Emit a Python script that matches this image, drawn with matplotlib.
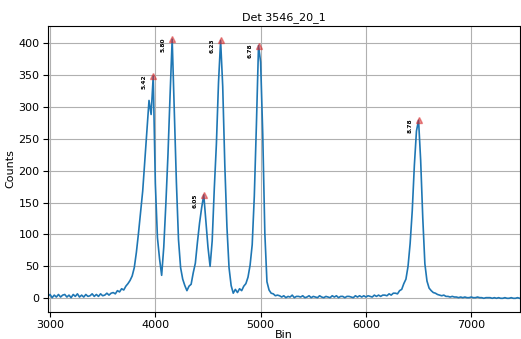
import numpy as np
import matplotlib
matplotlib.use("Agg")
import matplotlib.pyplot as plt

title = "Det 3546_20_1"

# spectrum, every 20 bins
bins = np.arange(2980, 7461, 20)
counts = [
    3, 6, 1, 5, 2, 6, 2, 5, 6, 2,
    5, 1, 6, 3, 7, 2, 5, 2, 6, 3,
    4, 7, 3, 6, 3, 7, 4, 5, 8, 5,
    8, 9, 7, 12, 10, 15, 13, 19, 23, 28,
    35, 48, 72, 102, 135, 168, 215, 262, 310, 288,
    348, 180, 95, 62, 36, 80, 148, 225, 318, 406,
    292, 182, 92, 48, 30, 20, 12, 19, 22, 40,
    55, 88, 118, 142, 162, 120, 80, 50, 90, 172,
    242, 338, 404, 332, 208, 112, 48, 20, 8, 14,
    9, 15, 12, 19, 23, 33, 52, 84, 160, 272,
    396, 370, 258, 102, 26, 13, 8, 7, 4, 5,
    4, 2, 4, 1, 3, 2, 5, 1, 3, 3,
    2, 4, 1, 2, 4, 1, 3, 2, 1, 4,
    2, 1, 3, 2, 1, 4, 2, 4, 1, 3,
    3, 1, 3, 3, 2, 1, 4, 2, 4, 2,
    4, 2, 4, 3, 2, 5, 3, 5, 3, 5,
    5, 4, 7, 5, 8, 8, 7, 12, 14, 23,
    30, 50, 86, 137, 208, 262, 279, 216, 126, 54,
    27, 16, 12, 9, 8, 6, 5, 4, 5, 3,
    3, 2, 3, 2, 2, 1, 2, 1, 2, 1,
    1, 2, 1, 1, 2, 1, 1, 0, 1, 1,
    1, 0, 1, 0, 1, 0, 0, 1, 0, 0,
    1, 0, 0, 1, 0,
]

# identified peaks
peak_bins = [3980, 4160, 4460, 4620, 4980, 6500]
peak_counts = [348, 406, 162, 404, 396, 279]
peak_labels = ["5.42", "5.80", "6.05", "6.23", "6.78", "8.78"]

plt.rcParams["font.size"] = 8
fig = plt.figure(figsize=(5.21, 3.39), dpi=100)
ax = fig.add_axes([0.0916, 0.0805, 0.907, 0.8435])

ax.plot(bins, counts, color="#1f77b4", linewidth=1.2)
ax.plot(peak_bins, peak_counts, "^", color="#d62728", alpha=0.5, markersize=4.5)
for b, c, lab in zip(peak_bins, peak_counts, peak_labels):
    ax.annotate(lab, (b, c), xytext=(-4.5, -4), textcoords="offset points",
                rotation=90, fontsize=4.2, fontweight="bold",
                ha="right", va="center")

ax.set_xlim(2978, 7466)
ax.set_ylim(-21, 427)
ax.set_yticks(np.arange(0, 401, 50))
ax.set_xticks([3000, 4000, 5000, 6000, 7000])
ax.tick_params(pad=2.5)
ax.grid(True, color="#b0b0b0", linewidth=0.8)
ax.set_axisbelow(True)
ax.set_title(title, fontsize=8, pad=4)
ax.set_xlabel("Bin", labelpad=0)
ax.set_ylabel("Counts", labelpad=2)

fig.savefig("out.png", dpi=100)
